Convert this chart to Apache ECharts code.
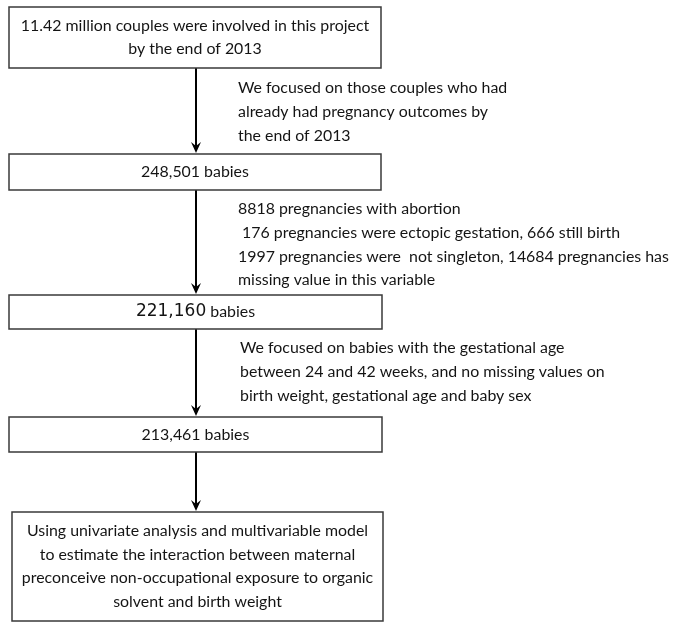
<!DOCTYPE html>
<html>
<head>
<meta charset="utf-8">
<script src="https://cdn.jsdelivr.net/npm/echarts@6/dist/echarts.min.js"></script>
<style>
  html, body { margin: 0; background: #fff; }
  #chart { width: 673px; height: 622px; }
</style>
</head>
<body>
<div id="chart"></div>
<script>
// flow chart content
const topBoxLines = ['11.42 million couples were involved in this project', 'by the end of 2013']
const babyCounts = [248501, 221160, 213461]
const lastBoxLines = [
  'Using univariate analysis and multivariable model',
  'to estimate the interaction between maternal',
  'preconceive non-occupational exposure to organic',
  'solvent and birth weight'
]
const noteLines = [
  ['We focused on those couples who had', 'already had pregnancy outcomes by', 'the end of 2013'],
  [
    '8818 pregnancies with abortion',
    ' 176 pregnancies were ectopic gestation, 666 still birth',
    '1997 pregnancies were  not singleton, 14684 pregnancies has',
    'missing value in this variable'
  ],
  [
    'We focused on babies with the gestational age',
    'between 24 and 42 weeks, and no missing values on',
    'birth weight, gestational age and baby sex'
  ]
]

// layout, in pixels of the 673x622 page
const boxTop = [7, 154, 295, 417, 512]
const boxBottom = [68, 190, 329, 452, 621]
const boxLeft = [9, 9, 9, 9, 12]
const boxRight = [381, 381, 382, 382, 383]
const arrowX = 196
const noteX = [238, 238, 240]
const noteFirstY = [88, 209, 348]
const lineStep = 23.7

const fontFamily = 'Lato, "Open Sans", sans-serif'
const textColor = '#141414'

// the source uses a narrow font; size ours so the longest note line spans the same width
const ctx = document.createElement('canvas').getContext('2d')
ctx.font = '20px ' + fontFamily
const fontSize = +(20 * 431 / ctx.measureText(noteLines[1][2]).width).toFixed(2)

const fmt = (n) => n.toLocaleString('en-US')
const boxTexts = [
  topBoxLines,
  [fmt(babyCounts[0]) + ' babies'],
  ['{num|' + fmt(babyCounts[1]) + '} babies'],
  [fmt(babyCounts[2]) + ' babies'],
  lastBoxLines
]

function renderBox(params, api) {
  const i = params.dataIndex
  const p0 = api.coord([boxLeft[i], boxTop[i]])
  const p1 = api.coord([boxRight[i], boxBottom[i]])
  const lines = boxTexts[i]
  const cx = (p0[0] + p1[0]) / 2
  const cy = (p0[1] + p1[1]) / 2
  const children = [{
    type: 'rect',
    shape: { x: p0[0], y: p0[1], width: p1[0] - p0[0], height: p1[1] - p0[1] },
    style: { fill: '#fff', stroke: '#3a3a3a', lineWidth: 1.5 }
  }]
  lines.forEach((t, k) => {
    children.push({
      type: 'text',
      style: {
        x: cx,
        y: cy + (k - (lines.length - 1) / 2) * lineStep,
        text: t,
        fill: textColor,
        fontSize,
        fontFamily,
        align: 'center',
        verticalAlign: 'middle',
        rich: {
          num: { fontSize: 17, fontFamily: '"DejaVu Sans", sans-serif', fill: textColor }
        }
      }
    })
  })
  return { type: 'group', children }
}

function renderArrow(params, api) {
  const i = params.dataIndex
  const a = api.coord([arrowX, boxBottom[i]])
  const b = api.coord([arrowX, boxTop[i + 1] - 1])
  return {
    type: 'group',
    children: [
      {
        type: 'line',
        shape: { x1: a[0], y1: a[1], x2: b[0], y2: b[1] - 6 },
        style: { stroke: '#000', lineWidth: 2 }
      },
      {
        type: 'polygon',
        shape: { points: [[b[0] - 5, b[1] - 11], [b[0], b[1] - 7], [b[0] + 5, b[1] - 11], [b[0], b[1]]] },
        style: { fill: '#000' }
      }
    ]
  }
}

function renderNote(params, api) {
  const i = params.dataIndex
  const p = api.coord([noteX[i], noteFirstY[i]])
  return {
    type: 'group',
    children: noteLines[i].map((t, k) => ({
      type: 'text',
      style: {
        x: p[0],
        y: p[1] + k * lineStep,
        text: t,
        fill: textColor,
        fontSize,
        fontFamily,
        align: 'left',
        verticalAlign: 'middle'
      }
    }))
  }
}

const chart = echarts.init(document.getElementById('chart'))
chart.setOption({
  animation: false,
  backgroundColor: '#fff',
  grid: { left: 0, right: 0, top: 0, bottom: 0 },
  xAxis: { type: 'value', min: 0, max: 673, show: false },
  yAxis: { type: 'value', min: 0, max: 622, inverse: true, show: false },
  series: [
    {
      type: 'custom',
      clip: false,
      renderItem: renderArrow,
      data: boxTop.slice(1).map((v, i) => [arrowX, boxBottom[i]])
    },
    {
      type: 'custom',
      clip: false,
      renderItem: renderBox,
      data: boxTexts.map((t, i) => [boxLeft[i], boxTop[i]])
    },
    {
      type: 'custom',
      clip: false,
      renderItem: renderNote,
      data: noteLines.map((t, i) => [noteX[i], noteFirstY[i]])
    }
  ]
})
</script>
</body>
</html>
